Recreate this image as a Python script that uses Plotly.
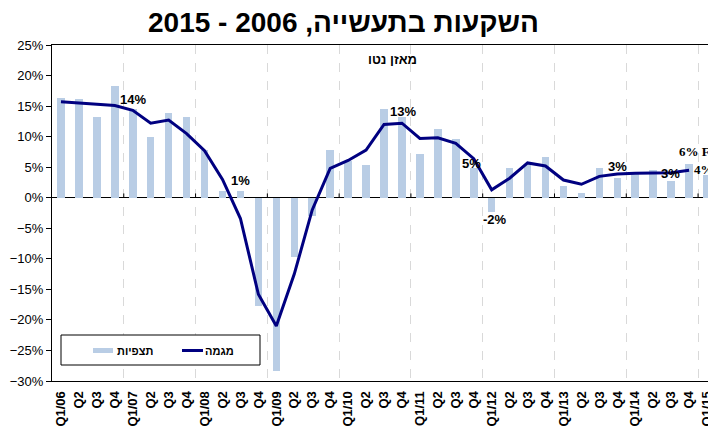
import plotly.graph_objects as go

# quarters Q1/06 .. Q1/15
quarters = ["Q1/06", "Q2", "Q3", "Q4",
            "Q1/07", "Q2", "Q3", "Q4",
            "Q1/08", "Q2", "Q3", "Q4",
            "Q1/09", "Q2", "Q3", "Q4",
            "Q1/10", "Q2", "Q3", "Q4",
            "Q1/11", "Q2", "Q3", "Q4",
            "Q1/12", "Q2", "Q3", "Q4",
            "Q1/13", "Q2", "Q3", "Q4",
            "Q1/14", "Q2", "Q3", "Q4",
            "Q1/15"]

# observations (net balance, %)
observed = [16.3, 16.1, 13.2, 18.3,
            14.5, 10.0, 13.9, 13.2,
            7.8, 1.1, 1.1, -17.8,
            -28.4, -9.7, -3.0, 7.8,
            6.0, 5.4, 14.5, 13.2,
            7.2, 11.2, 9.6, 4.8,
            -2.4, 4.9, 5.5, 6.7,
            1.9, 0.8, 4.8, 3.3,
            4.0, 4.6, 2.7, 5.5,
            3.7]

# trend line
trend = [15.7, 15.5, 15.3, 15.1,
         14.3, 12.2, 12.7, 10.5,
         7.7, 3.0, -3.4, -15.8,
         -21.0, -12.5, -2.0, 4.8,
         6.1, 7.8, 12.0, 12.2,
         9.7, 9.8, 8.9, 6.4,
         1.3, 3.2, 5.7, 5.2,
         2.9, 2.2, 3.5, 3.9,
         4.0, 4.0, 4.1, 4.5,
         None]

# which bars carry a value label
labelled = [4, 10, 19, 23, 24, 31, 34, 35, 36]

BAR_COLOR = "#B9CDE5"
LINE_COLOR = "#000080"

idx = list(range(len(quarters)))
year_bounds = [i - 0.5 for i in idx if i > 0 and quarters[i].startswith("Q1/")]

# the page body keeps an 8px margin, so the figure is a bit smaller than the window
PAGE_OFF = 8
W, H = 716 - PAGE_OFF, 428 - PAGE_OFF
PLOT_L, PLOT_T, PLOT_R, PLOT_B = 52, 45, 716, 381   # plot area, window pixels


def px(xw):
    return (xw - PLOT_L) / (PLOT_R - PLOT_L)


def py(yw):
    return (PLOT_B - yw) / (PLOT_B - PLOT_T)


fig = go.Figure()
fig.add_bar(x=idx, y=observed, name="תצפיות", marker_color=BAR_COLOR,
            marker_line_width=0, width=0.42, showlegend=False)
fig.add_scatter(x=idx, y=trend, mode="lines", name="מגמה",
                line=dict(color=LINE_COLOR, width=3), showlegend=False)

# value labels (pixel offsets from the bar end)
shifts = {4: (0, 10), 10: (0, 11), 19: (1, 6), 23: (-2, 5), 24: (3, -7),
          31: (0, 11), 34: (-1, 8)}
for i in labelled:
    v = observed[i]
    txt = f"{round(v):.0f}%"
    if i in shifts:
        dx, dy = shifts[i]
        fig.add_annotation(x=i, y=v, text=txt, showarrow=False, xshift=dx, yshift=dy,
                           font=dict(family="Liberation Sans", size=13, color="black", weight="bold"))
    elif i == 35:
        fig.add_annotation(x=i, y=v, text=txt + " F", showarrow=False, xanchor="left",
                           xshift=-12, yshift=13,
                           font=dict(family="Liberation Serif", size=13, color="black", weight="bold"))
    else:
        fig.add_annotation(x=i, y=v, text=txt, showarrow=False, xanchor="left",
                           xshift=-15, yshift=6,
                           font=dict(family="Liberation Serif", size=13, color="black", weight="bold"))

# small ticks on the zero line between years
for b in year_bounds:
    fig.add_shape(type="line", x0=b, x1=b, y0=0, y1=0.7, xref="x", yref="y",
                  line=dict(color="black", width=1))

# legend box drawn by hand (flat swatches like the original)
fig.add_shape(type="rect", xref="paper", yref="paper", x0=px(61), x1=px(260),
              y0=py(365), y1=py(335), line=dict(color="black", width=1), fillcolor="white")
fig.add_shape(type="rect", xref="paper", yref="paper", x0=px(93), x1=px(113),
              y0=py(353), y1=py(348), line_width=0, fillcolor=BAR_COLOR)
fig.add_shape(type="line", xref="paper", yref="paper", x0=px(182), x1=px(203),
              y0=py(350.5), y1=py(350.5), line=dict(color=LINE_COLOR, width=3))
fig.add_annotation(text="תצפיות", xref="paper", yref="paper", x=px(115), y=py(351),
                   xanchor="left", yanchor="middle", showarrow=False,
                   font=dict(family="Liberation Sans", size=11, color="black", weight="bold"))
fig.add_annotation(text="מגמה", xref="paper", yref="paper", x=px(203), y=py(351),
                   xanchor="left", yanchor="middle", showarrow=False,
                   font=dict(family="Liberation Sans", size=11, color="black", weight="bold"))

fig.add_annotation(text="השקעות בתעשייה, 2006 - 2015", xref="paper", yref="paper",
                   x=px(343), y=py(22), showarrow=False, yanchor="middle",
                   font=dict(family="Liberation Sans", size=28, color="black", weight="bold"))
fig.add_annotation(text="מאזן נטו", xref="paper", yref="paper",
                   x=px(392), y=py(60), showarrow=False, yanchor="middle",
                   font=dict(family="Liberation Sans", size=13, color="black", weight="bold"))

fig.update_layout(
    width=W, height=H,
    margin=dict(l=PLOT_L - PAGE_OFF, r=0, t=PLOT_T - PAGE_OFF, b=H - (PLOT_B - PAGE_OFF)),
    plot_bgcolor="white", paper_bgcolor="white",
    font=dict(family="Liberation Sans", color="black"),
    showlegend=False,
    bargap=0,
)
fig.update_xaxes(
    range=[-0.5, len(quarters) - 0.5],
    tickmode="array", tickvals=idx, ticktext=[f"<b>{q}</b>" for q in quarters],
    tickangle=-90, tickfont=dict(size=13, color="black"), ticklabelstandoff=4,
    showline=True, linecolor="black", linewidth=1, mirror=True,
    ticks="", showgrid=False, zeroline=False,
    minor=dict(tickmode="array", tickvals=year_bounds, showgrid=True,
               gridcolor="#D9D9D9", griddash="dash", gridwidth=1, ticks=""),
)
fig.update_yaxes(
    range=[-30, 25], dtick=5, ticksuffix="%",
    showline=True, linecolor="black", linewidth=1,
    ticks="outside", ticklen=5, tickcolor="black",
    tickfont=dict(size=13, color="black"),
    showgrid=False, zeroline=True, zerolinecolor="black", zerolinewidth=1,
)

fig.write_html("out.html")
